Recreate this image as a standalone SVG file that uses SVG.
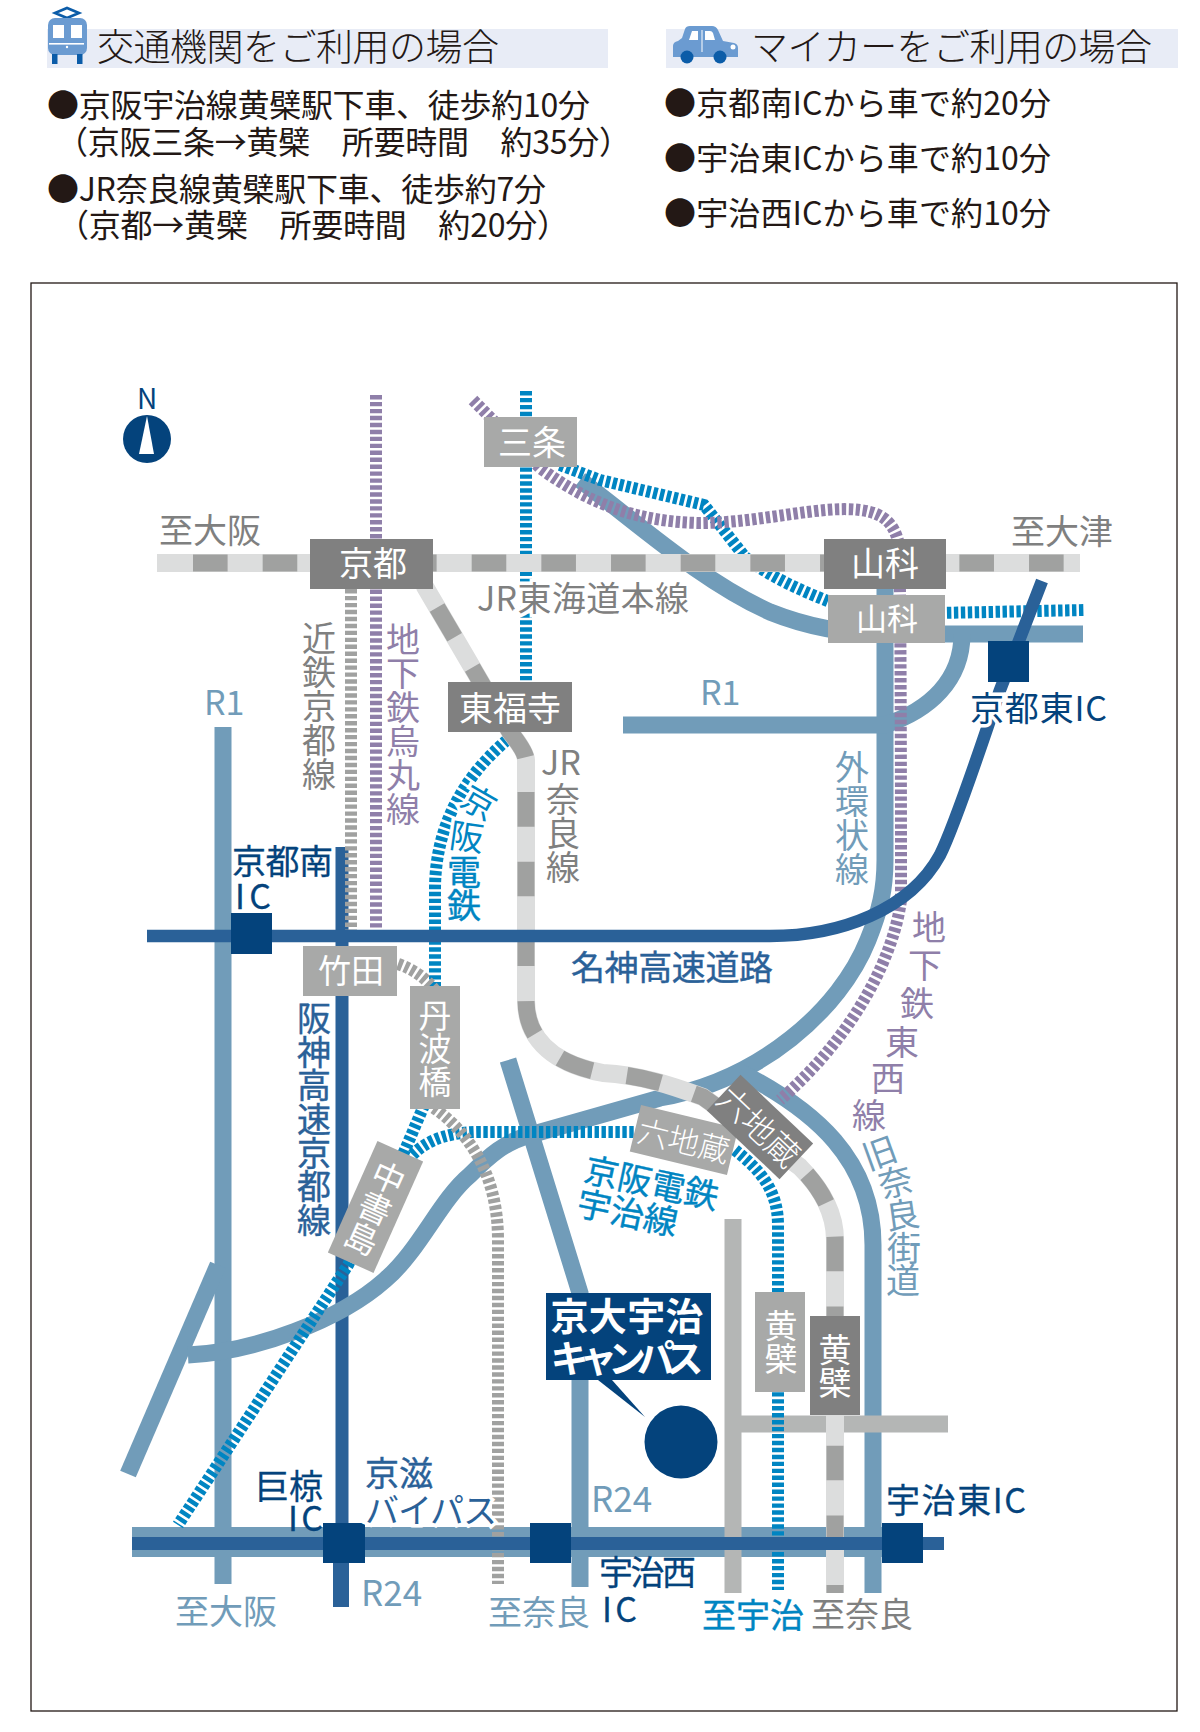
<svg xmlns="http://www.w3.org/2000/svg" width="1200" height="1732" viewBox="0 0 1200 1732">
<style>
text{font-family:"Noto Sans CJK JP","Noto Sans",sans-serif;dominant-baseline:central}
.b{font-size:32px;fill:#231815}
.h{font-size:37px;fill:#231815}
.m{text-anchor:middle}
.v{writing-mode:vertical-rl;text-anchor:middle}
.w{fill:#fff;font-size:34px}
.g{fill:#7f8080;font-size:34px}
.l{fill:#719cb9;font-size:34px}
.p{fill:#8f7fa9;font-size:34px}
.c{fill:#0085c2;font-size:34px;stroke:#0085c2;stroke-width:.4}
.d{fill:#2a6198;font-size:34px;stroke:#2a6198;stroke-width:.4}
.n{fill:#04437c;font-size:34px;stroke:#04437c;stroke-width:.3}
.halo{stroke:#fff;stroke-width:7;paint-order:stroke}
.road{fill:none;stroke:#719cb9;stroke-width:17}
.gr{fill:none;stroke:#b4b6b5;stroke-width:17}
.hw{fill:none;stroke:#2a6198;stroke-width:12.5}
.st{fill:none;stroke-width:12;stroke-dasharray:4.4 2.55}
.sb{stroke:#0085c2}.sp{stroke:#8f7fa9}.sg{stroke:#a0a1a0}
.jl{fill:none;stroke:#dcdddd;stroke-width:18}
.jd{fill:none;stroke:#a0a1a0;stroke-width:17;stroke-dasharray:34.6 35.07}
.dk{fill:#808080}.lt{fill:#a8a9a8}.ic{fill:#04437c}
</style>
<rect x="31" y="283" width="1146" height="1428" fill="none" stroke="#231815" stroke-width="1.3"/>

<g id="header">
<rect x="47" y="29" width="561" height="39" fill="#e8ecf6"/>
<rect x="666" y="29" width="512" height="39" fill="#e8ecf6"/>
<g id="train-icon">
<path d="M55 13l12-5 12 5-12 5z" fill="none" stroke="#0b5ca8" stroke-width="2.6"/>
<rect x="48" y="18" width="39" height="37" rx="7" fill="#6b9bd1"/>
<rect x="53" y="25" width="11" height="13" fill="#fff"/><rect x="71" y="25" width="11" height="13" fill="#fff"/>
<rect x="49" y="43" width="35" height="1.6" fill="#fff"/><circle cx="67" cy="47" r="1.2" fill="#fff"/>
<rect x="52" y="54" width="5.5" height="10" fill="#0b5ca8"/><rect x="77" y="54" width="5.5" height="10" fill="#0b5ca8"/>
</g>
<g id="car-icon">
<path d="M673 57V46q0-4 5-5l4-3 3-9q1-3 5-3h22q4 0 6 4l5 11 11 2q4 1 4 5v9z" fill="#6b9bd1"/>
<path d="M692 31h6v9h-9zM705 31h5q2 0 3 2l2 7h-10z" fill="#fff"/>
<rect x="701.5" y="30" width="1" height="22" fill="#fff"/><circle cx="733" cy="47" r="2.5" fill="#fff"/>
<circle cx="687" cy="57" r="6.5" fill="#0b5ca8"/><circle cx="720" cy="57" r="6.5" fill="#0b5ca8"/>
</g>
<text class="h" x="97" y="45" textLength="402" font-weight="300">交通機関をご利用の場合</text>
<text class="h" x="751" y="45" textLength="401" font-weight="300">マイカーをご利用の場合</text>
<text class="b" x="47" y="103" textLength="543">●京阪宇治線黄檗駅下車、徒歩約10分</text>
<text class="b" x="56" y="140" textLength="575">（京阪三条→黄檗　所要時間　約35分）</text>
<text class="b" x="47" y="187" textLength="499">●JR奈良線黄檗駅下車、徒歩約7分</text>
<text class="b" x="57" y="223" textLength="512">（京都→黄檗　所要時間　約20分）</text>
<text class="b" x="664" y="101" textLength="387">●京都南ICから車で約20分</text>
<text class="b" x="664" y="156" textLength="387">●宇治東ICから車で約10分</text>
<text class="b" x="664" y="211" textLength="387">●宇治西ICから車で約10分</text>
</g>

<g id="connectors">
<path class="hw" style="stroke-width:13" d="M342 847V1590"/>
<path d="M333 1560h16v47h-16z" fill="#2a6198"/>
<path class="road" d="M223 727V1584"/>
<path class="road" d="M128 1474L218 1265"/>
<path class="road" d="M188 1355C255 1352 340 1320 385 1280C420 1250 440 1200 470 1175C490 1155 505 1142 530 1135L660 1098C760 1080 840 1010 868 940C880 910 885 890 885 860V589"/>
<path class="road" d="M508 1060L580 1293V1587"/>
<path class="road" d="M740 1072C815 1110 873 1160 873 1245V1593"/>
<path class="road" d="M580 480C640 525 700 580 770 612C810 628 850 634 885 634H1083"/>
<path class="road" d="M623 725H885C930 710 962 680 962 634"/>
<path d="M132 1542H882" fill="none" stroke="#719cb9" stroke-width="30"/>
<path class="gr" d="M733 1219V1593M733 1424H948"/>
<path class="st sp" d="M376 395V943"/>
<path class="st sg" d="M351 589V943"/>
<path class="st sb" d="M526 391V690"/>
<path class="st sb" d="M507 740C460 780 435 830 435 890V1080L422 1110L405 1150L348 1265L178 1525"/>
<path class="st sb" d="M408 1160C420 1145 440 1132 480 1132H650"/>
<path class="st sb" d="M735 1150C760 1170 778 1190 778 1225V1590"/>
<path class="st sb" d="M560 465L600 480L704 505L745 557C770 577 800 590 830 602"/>
<path class="st sb" d="M940 613L1085 610"/>
<path class="st sp" d="M473 400L540 468C590 505 640 522 700 523C760 523 820 505 860 510C885 513 895 525 899 545C901 580 901 860 901 900C895 950 860 1030 780 1100"/>
<path class="st sg" d="M398 964C415 970 425 978 435 990M434 1108C465 1130 498 1170 498 1240V1584"/>
<path class="jl" d="M157 563H1080"/>
<path class="jd" d="M193 563H1080"/>
<path id="jr-nara" class="jl" d="M424 585L510 732Q526 752 526 760V1000C526 1050 570 1067 603 1073C640 1075 670 1085 703 1097L800 1167C818 1185 835 1210 835 1240V1593"/>
<path class="jd" stroke-dashoffset="-26" d="M424 585L510 732Q526 752 526 760V1000C526 1050 570 1067 603 1073C640 1075 670 1085 703 1097L800 1167C818 1185 835 1210 835 1240V1593"/>
<path class="hw" d="M147 936H770C840 936 910 910 940 855C955 825 985 735 1000 690L1042 581"/>
<path d="M132 1543.5H944" fill="none" stroke="#2a6198" stroke-width="13"/>
</g>

<g id="north"><text x="147" y="397" class="m" style="font-size:28px;fill:#04437c">N</text>
<circle cx="147" cy="439" r="24" fill="#04437c"/><path d="M147 416L139 454H154z" fill="#fff"/></g>

<g id="st-sanjo"><rect class="lt" x="484" y="417" width="93" height="50"/><text class="w m" x="532" y="440">三条</text></g>
<g id="st-kyoto"><rect class="dk" x="310" y="539" width="123" height="50"/><text class="w m" x="373" y="561">京都</text></g>
<g id="st-tofukuji"><rect class="dk" x="448" y="682" width="124" height="50"/><text class="w m" x="510" y="706">東福寺</text></g>
<g id="st-yamashina-jr"><rect class="dk" x="824" y="539" width="122" height="50"/><text class="w m" x="885" y="561">山科</text></g>
<g id="st-yamashina-sub"><rect class="lt" x="828" y="595" width="117" height="48"/><text class="w m" x="887" y="616" style="font-size:31px">山科</text></g>
<g id="st-takeda"><rect class="lt" x="303" y="946" width="94" height="50"/><text class="w m" x="351" y="969" style="font-size:33px">竹田</text></g>
<g id="st-tambabashi"><rect class="lt" x="410" y="986" width="50" height="123"/><text class="w v" x="435" y="1048" style="font-size:33px">丹波橋</text></g>
<g id="st-chushojima" transform="translate(375.5 1207) rotate(24)"><rect class="lt" x="-25" y="-61" width="50" height="122"/><text class="w v" x="0" y="1" style="font-size:33px">中書島</text></g>
<g id="st-rokujizo-keihan" transform="translate(684 1140) rotate(13.6)"><rect class="lt" x="-50" y="-24" width="100" height="48"/><text class="w m" x="0" y="-1" style="font-size:31px" font-weight="300">六地蔵</text></g>
<g id="st-rokujizo-jr" transform="translate(760 1127) rotate(43.4)"><rect class="dk" x="-50" y="-24.5" width="100" height="49"/><text class="w m" x="-1" y="-1" style="font-size:33px" font-weight="300">六地蔵</text></g>
<g id="st-obaku-keihan"><rect class="lt" x="755" y="1292" width="50" height="100"/><text class="w v" x="781" y="1342" style="font-size:33px">黄檗</text></g>
<g id="st-obaku-jr"><rect class="dk" x="810" y="1316" width="50" height="99"/><text class="w v" x="835" y="1366" style="font-size:33px">黄檗</text></g>

<g id="ic-kyotominami"><rect class="ic" x="231" y="913" width="41" height="41"/><text class="n" x="232" y="859" textLength="101">京都南</text><text class="n" x="235" y="894" textLength="36">IC</text></g>
<g id="ic-kyotohigashi"><rect class="ic" x="988" y="641" width="41" height="41"/><text class="n halo" x="970" y="706" textLength="137">京都東IC</text></g>
<g id="ic-ogura"><rect class="ic" x="323" y="1523" width="42" height="40"/><text class="n" x="255" y="1484">巨椋</text><text class="n" x="288" y="1516" textLength="35">IC</text></g>
<g id="ic-ujinishi"><rect class="ic" x="530" y="1523" width="41" height="40"/><text class="n" x="599" y="1570" textLength="97">宇治西</text><text class="n" x="602" y="1607" textLength="35">IC</text></g>
<g id="ic-ujihigashi"><rect class="ic" x="882" y="1523" width="41" height="40"/><text class="n" x="886" y="1498" textLength="140">宇治東IC</text></g>

<g id="campus"><path d="M598 1380h14l33 37z" fill="#04437c"/><rect class="ic" x="546" y="1293" width="165" height="87"/>
<text class="w m" x="627" y="1313" font-weight="700" style="font-size:38px" textLength="153">京大宇治</text>
<text class="w m" x="627" y="1355" font-weight="700" style="font-size:38px" textLength="153">キャンパス</text>
<circle cx="681" cy="1442" r="36.5" fill="#04437c"/></g>

<g id="labels">
<text class="g" x="159" y="528">至大阪</text>
<text class="g" x="1011" y="529">至大津</text>
<text class="g halo" x="477" y="596" textLength="212">JR東海道本線</text>
<text class="g v" x="319" y="706">近鉄京都線</text>
<text class="p v" x="403" y="724">地下鉄烏丸線</text>
<text class="l" x="204" y="700">R1</text>
<text class="l" x="700" y="690">R1</text>
<text class="l v" x="852" y="818">外環状線</text>
<text class="c m halo" transform="translate(480 801) rotate(30)">京</text>
<text class="c m halo" transform="translate(467 835) rotate(8)">阪</text>
<text class="c m" x="464" y="870">電</text>
<text class="c m" x="464" y="903">鉄</text>
<text class="g" x="541" y="760">JR</text>
<text class="g v" x="563" y="833">奈良線</text>
<text class="d v" x="314" y="1119" textLength="236">阪神高速京都線</text>
<text class="d" x="571" y="965" textLength="202">名神高速道路</text>
<text class="p m" x="929" y="925">地</text><text class="p m" x="925" y="963">下</text><text class="p m" x="917" y="1001">鉄</text><text class="p m" x="902" y="1040">東</text><text class="p m" x="888" y="1076">西</text><text class="p m" x="869" y="1113">線</text>
<text class="l m" transform="translate(879 1151) rotate(-20)">旧</text>
<text class="l m" transform="translate(895 1180) rotate(-15)">奈</text>
<text class="l m" transform="translate(902 1213) rotate(-8)">良</text>
<text class="l m" x="904" y="1246">街</text>
<text class="l m" x="903" y="1278">道</text>
<text class="c m" transform="translate(652 1181) rotate(12)">京阪電鉄</text>
<text class="c m" transform="translate(628 1211) rotate(12)">宇治線</text>
<text class="l" x="361" y="1590" style="font-size:35px">R24</text>
<text class="l" x="591" y="1496" style="font-size:35px">R24</text>
<text class="l" x="175" y="1609">至大阪</text>
<text class="l" x="488" y="1610">至奈良</text>
<text class="c" x="702" y="1613">至宇治</text>
<text class="g" x="811" y="1612">至奈良</text>
<text class="d" x="365" y="1471">京滋</text>
<text class="d halo" x="365" y="1508" textLength="132">バイパス</text>
</g>
</svg>
